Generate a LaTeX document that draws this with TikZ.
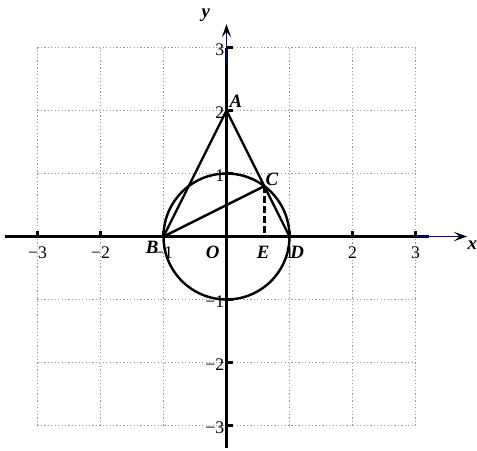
\documentclass[tikz,border=0pt]{standalone}
\usepackage{fontspec}
\setmainfont{Liberation Serif}
\usetikzlibrary{arrows.meta}
\definecolor{axblue}{rgb}{0.05,0.05,0.45}
\begin{document}
\begin{tikzpicture}[
 gridline/.style={gray!80, densely dotted, line width=0.55pt},
 axisline/.style={line width=1.4pt},
 axtip/.style={axblue, line width=0.8pt, -{Stealth[length=6pt,width=4.2pt,inset=2.6pt,color=black]}},
 tickmark/.style={line width=1.4pt},
 figline/.style={line width=1.1pt},
 ticklab/.style={font=\fontsize{8}{9}\selectfont, inner sep=0pt},
 ptlab/.style={font=\fontsize{8.5}{9}\selectfont\bfseries\itshape, inner sep=0pt},
]
\useasboundingbox (-3.595,-3.389) rectangle (3.976,3.754);
% grid
\draw[gridline] (-3,-3) grid (3,3);
% coordinates
\coordinate (O) at (0,0);
\coordinate (A) at (0,2);
\coordinate (B) at (-1,0);
\coordinate (C) at (0.6,0.8);
\coordinate (D) at (1,0);
\coordinate (E) at (0.6,0);
\coordinate (xl) at (-3.52,0);
\coordinate (xm) at (3.22,0);
\coordinate (xs) at (3.0,0);
\coordinate (xr) at (3.82,0);
\coordinate (yb) at (0,-3.36);
\coordinate (ym) at (0,3.0);
\coordinate (ys) at (0,2.75);
\coordinate (yt) at (0,3.37);
% axes
\draw[axisline] (xl) -- (xm);
\draw[axtip] (xs) -- (xr);
\draw[axisline] (yb) -- (ym);
\draw[axtip] (ys) -- (yt);
% ticks and labels
\foreach \v/\t in {-3/−3,-2/−2,-1/−1,1/1,2/2,3/3}{
  \draw[tickmark] (\v,0) -- (\v,0.09);
  \draw[tickmark] (0,\v) -- (0.11,\v);
  \node[ticklab] (tx\v) at (\v,-0.26) {\t};
  \node[ticklab, anchor=east] (ty\v) at (-0.03,\v-0.03) {\t};
}
% figure
\draw[figline] (O) circle (1);
\draw[figline] (B) -- (A) -- (D);
\draw[figline] (B) -- (C);
\draw[figline, dashed, dash pattern=on 3pt off 1.5pt] (C) -- (E);
% labels
\node[ptlab] (lA) at (0.15,2.15) {A};
\node[ptlab] (lB) at (-1.18,-0.18) {B};
\node[ptlab] (lC) at (0.72,0.91) {C};
\node[ptlab] (lD) at (1.12,-0.25) {D};
\node[ptlab] (lE) at (0.58,-0.25) {E};
\node[ptlab] (lO) at (-0.22,-0.25) {O};
\node[ptlab] (lx) at (3.9,-0.13) {x};
\node[ptlab] (ly) at (-0.33,3.51) {y};
\end{tikzpicture}
\end{document}
